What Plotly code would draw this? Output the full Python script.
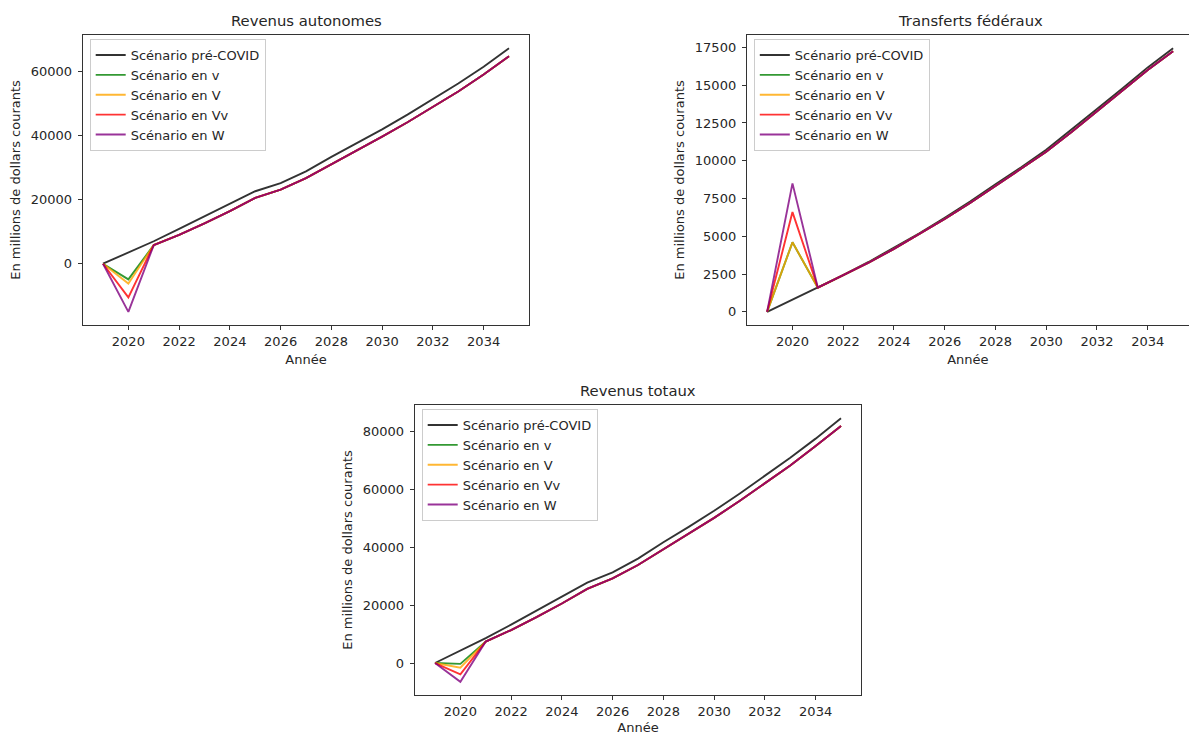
import plotly.graph_objects as go

# ---- data -------------------------------------------------------------
years = list(range(2019, 2036))

series_names = ["Scénario pré-COVID", "Scénario en v", "Scénario en V",
                "Scénario en Vv", "Scénario en W"]
series_colors = ["rgba(0,0,0,0.8)", "rgba(0,128,0,0.8)", "rgba(255,165,0,0.8)",
                 "rgba(255,0,0,0.8)", "rgba(128,0,128,0.8)"]

# Revenus autonomes (M$ courants)
auto_pre = [0, 3500, 7000, 10850, 14700, 18700, 22600, 25100, 28800, 33300,
            37500, 41900, 46500, 51300, 56200, 61400, 67200]
auto_v = [0, -4900, 5800, 9000, 12600, 16400, 20500, 23100, 26700, 31000,
          35200, 39600, 44100, 48900, 53700, 59000, 64700]
auto_V = [0, -6200, 5800, 9000, 12600, 16400, 20500, 23100, 26700, 31000,
          35200, 39600, 44100, 48900, 53700, 59000, 64700]
auto_Vv = [0, -10500, 5800, 9000, 12600, 16400, 20500, 23100, 26700, 31000,
           35200, 39600, 44100, 48900, 53700, 59000, 64700]
auto_W = [0, -15000, 5800, 9000, 12600, 16400, 20500, 23100, 26700, 31000,
          35200, 39600, 44100, 48900, 53700, 59000, 64700]

# Transferts fédéraux
transf_pre = [0, 800, 1600, 2430, 3300, 4240, 5200, 6230, 7300, 8440,
              9550, 10720, 12050, 13420, 14780, 16180, 17450]
transf_v = [0, 4600, 1600, 2400, 3250, 4170, 5130, 6140, 7200, 8330,
            9440, 10590, 11900, 13270, 14620, 16010, 17250]
transf_V = [0, 4600, 1600, 2400, 3250, 4170, 5130, 6140, 7200, 8330,
            9440, 10590, 11900, 13270, 14620, 16010, 17250]
transf_Vv = [0, 6600, 1600, 2400, 3250, 4170, 5130, 6140, 7200, 8330,
             9440, 10590, 11900, 13270, 14620, 16010, 17250]
transf_W = [0, 8500, 1600, 2400, 3250, 4170, 5130, 6140, 7200, 8330,
            9440, 10590, 11900, 13270, 14620, 16010, 17250]

# Revenus totaux
total_pre = [0, 4300, 8600, 13280, 18000, 22940, 27800, 31330, 36100, 41740,
             47050, 52620, 58550, 64720, 70980, 77580, 84650]
total_v = [0, -300, 7400, 11400, 15850, 20570, 25630, 29240, 33900, 39330,
           44640, 50190, 56000, 62170, 68320, 75010, 81950]
total_V = [0, -1600, 7400, 11400, 15850, 20570, 25630, 29240, 33900, 39330,
           44640, 50190, 56000, 62170, 68320, 75010, 81950]
total_Vv = [0, -3900, 7400, 11400, 15850, 20570, 25630, 29240, 33900, 39330,
            44640, 50190, 56000, 62170, 68320, 75010, 81950]
total_W = [0, -6500, 7400, 11400, 15850, 20570, 25630, 29240, 33900, 39330,
           44640, 50190, 56000, 62170, 68320, 75010, 81950]

x_ticks = list(range(2020, 2036, 2))

# ---- layout geometry (pixels) ----------------------------------------
W, H = 1189, 735
FONT = "DejaVu Sans"
TXT = "#262626"
FS = 13

panels = [
    dict(title="Revenus autonomes", data=[auto_pre, auto_v, auto_V, auto_Vv, auto_W],
         box=(82.7, 529.3, 35, 325), dtick=20000, right_cut=False),
    dict(title="Transferts fédéraux",
         data=[transf_pre, transf_v, transf_V, transf_Vv, transf_W],
         box=(746.8, 1193.4, 35, 325), dtick=2500, right_cut=True),
    dict(title="Revenus totaux", data=[total_pre, total_v, total_V, total_Vv, total_W],
         box=(414.7, 861.3, 405, 695), dtick=20000, right_cut=False),
]

fig = go.Figure()
layout = dict(width=W, height=H, autosize=False,
              margin=dict(l=0, r=0, t=0, b=0),
              paper_bgcolor="white", plot_bgcolor="white",
              font=dict(family=FONT, size=FS, color=TXT),
              annotations=[])

x0, x1 = years[0], years[-1]
xpad = (x1 - x0) * 0.05

for i, p in enumerate(panels):
    k = "" if i == 0 else str(i + 1)
    leg = "legend" + k
    left, right, top, bottom = p["box"]

    for name, color, ys in zip(series_names, series_colors, p["data"]):
        fig.add_trace(go.Scatter(
            x=years, y=ys, mode="lines", name=name,
            line=dict(color=color, width=1.9),
            xaxis="x" + k, yaxis="y" + k, legend=leg))

    all_y = [v for s in p["data"] for v in s]
    ymin, ymax = min(all_y), max(all_y)
    ypad = (ymax - ymin) * 0.05

    xr_lo = x0 - xpad
    xr_hi = x1 + xpad
    dom_r = right / W
    if p["right_cut"]:
        # axes extend past the figure edge: clip the range at the edge
        per_px = (xr_hi - xr_lo) / (right - left)
        xr_hi = xr_lo + (W - left) * per_px
        dom_r = 1.0

    layout["xaxis" + k] = dict(
        domain=[left / W, dom_r], anchor="y" + k,
        range=[xr_lo, xr_hi], tickvals=x_ticks,
        showline=True, linecolor="#333333", linewidth=1, mirror=True,
        ticks="outside", ticklen=4, tickcolor="#333333",
        showgrid=False, zeroline=False,
        title=dict(text="Année", standoff=7, font=dict(size=FS)),
        tickfont=dict(size=FS))
    layout["yaxis" + k] = dict(
        domain=[1 - bottom / H, 1 - top / H], anchor="x" + k,
        range=[ymin - ypad, ymax + ypad], dtick=p["dtick"], tickformat="d",
        showline=True, linecolor="#333333", linewidth=1,
        mirror=not p["right_cut"],
        ticks="outside", ticklen=4, tickcolor="#333333", ticklabelstandoff=3,
        showgrid=False, zeroline=False,
        title=dict(text="En millions de dollars courants", standoff=7,
                   font=dict(size=FS)),
        tickfont=dict(size=FS))
    layout[leg] = dict(
        x=(left + 7) / W, y=1 - (top + 4) / H, xanchor="left", yanchor="top",
        bgcolor="rgba(255,255,255,0.8)", bordercolor="#cccccc", borderwidth=1,
        font=dict(size=FS, color=TXT), tracegroupgap=0)
    layout["annotations"].append(dict(
        text=p["title"], xref="paper", yref="paper",
        x=(left + right) / 2 / W,
        y=1 - top / H, xanchor="center", yanchor="bottom", yshift=4,
        showarrow=False, font=dict(size=14.8, color=TXT)))

fig.update_layout(**layout)
fig.write_html("out.html")
